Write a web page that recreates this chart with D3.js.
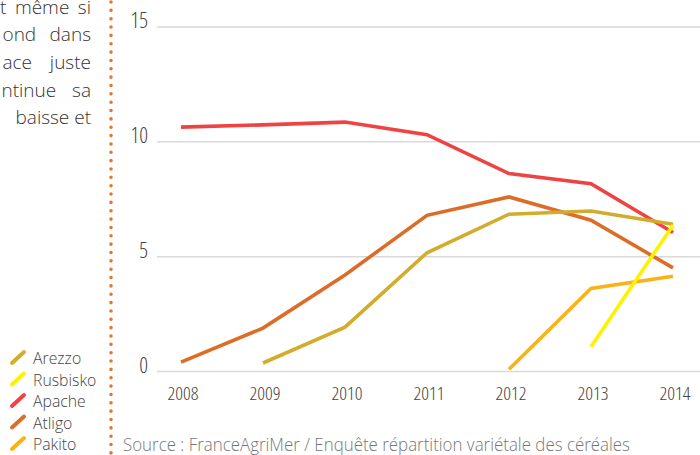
<!DOCTYPE html>
<html><head><meta charset="utf-8">
<script src="https://cdn.jsdelivr.net/npm/d3@7/dist/d3.min.js"></script>
<style>
html,body{margin:0;padding:0;background:#fff;overflow:hidden}
text{font-family:"Open Sans","DejaVu Sans",sans-serif;font-weight:300}
.cond{font-stretch:75%}
</style></head><body>
<svg id="c" width="700" height="455"></svg>
<script>
const years = [2008, 2009, 2010, 2011, 2012, 2013, 2014];
const arezzo   = [null, 0.37, 1.93, 5.17, 6.85, 6.99, 6.41];
const rusbisko = [null, null, null, null, null, 1.08, 6.37];
const apache   = [10.64, 10.74, 10.86, 10.31, 8.62, 8.18, 6.05];
const atligo   = [0.41, 1.89, 4.20, 6.80, 7.60, 6.59, 4.51];
const pakito   = [null, null, null, null, 0.10, 3.62, 4.15];
const yTicks = [0, 5, 10, 15];
const legendNames = ["Arezzo", "Rusbisko", "Apache", "Atligo", "Pakito"];
const paragraph = ["t même si", "ond dans", "ace juste", "ntinue sa", "baisse et"];
const source = "Source : FranceAgriMer / Enquête répartition variétale des céréales";

const colors = {Arezzo:"#d2ad2c", Rusbisko:"#fff200", Apache:"#ef4343", Atligo:"#dc6d28", Pakito:"#fbb217"};
const seriesMap = {Arezzo:arezzo, Rusbisko:rusbisko, Apache:apache, Atligo:atligo, Pakito:pakito};
const drawOrder = ["Apache", "Atligo", "Pakito", "Arezzo", "Rusbisko"];

const svg = d3.select("#c");
const x = d3.scaleLinear().domain([2008, 2014]).range([181, 673]);
const y = d3.scaleLinear().domain([0, 15]).range([371.5, 27]);

// paragraph (visible part, justified to the right edge)
const lineYs = [13.5, 41, 68.5, 96.5, 124];
const lineX0 = [0, 2.5, 2.5, 1.5, 15.5];
const rightEdge = 91;
paragraph.forEach((t, i) => {
  const el = svg.append("text").attr("x", lineX0[i]).attr("y", lineYs[i])
    .attr("font-size", 19).attr("fill", "#333").text(t);
  const L = el.node().getComputedTextLength();
  const n = t.split(" ").length - 1;
  el.attr("word-spacing", Math.max(0, (rightEdge - lineX0[i] - L) / n));
});

// dotted separator
svg.append("line").attr("x1", 111).attr("x2", 111).attr("y1", 2).attr("y2", 455)
  .attr("stroke", "#e0782e").attr("stroke-width", 3.6).attr("stroke-linecap", "round")
  .attr("stroke-dasharray", "0 8.35");

// gridlines
svg.append("g").selectAll("line").data(yTicks).join("line")
  .attr("x1", 157).attr("x2", 700).attr("y1", d => y(d)).attr("y2", d => y(d))
  .attr("stroke", "#d9d9d9").attr("stroke-width", 1.5);

// y tick labels
svg.append("g").selectAll("text").data(yTicks).join("text").attr("class", "cond")
  .attr("x", 148).attr("y", d => y(d) + 1).attr("text-anchor", "end")
  .attr("font-size", 21.5).attr("fill", "#444").text(d => d);

// x labels
svg.append("g").selectAll("text").data(years).join("text").attr("class", "cond")
  .attr("x", d => x(d) + 2).attr("y", 399.5).attr("text-anchor", "middle")
  .attr("font-size", 19).attr("fill", "#444").text(d => d);

// lines
const line = d3.line().defined(d => d.v != null).x(d => x(d.year)).y(d => y(d.v));
drawOrder.forEach(name => {
  const data = years.map((yr, i) => ({year: yr, v: seriesMap[name][i]}));
  svg.append("path").datum(data).attr("d", line).attr("fill", "none")
    .attr("stroke", colors[name]).attr("stroke-width", 3.6).attr("stroke-linejoin", "miter");
});

// legend
const legY = [358, 379.5, 401, 422.5, 444];
legendNames.forEach((n, i) => {
  const cy = legY[i];
  svg.append("line").attr("x1", 12).attr("y1", cy + 5).attr("x2", 24).attr("y2", cy - 6)
    .attr("stroke", colors[n]).attr("stroke-width", 4).attr("stroke-linecap", "round");
  svg.append("text").attr("x", 33).attr("y", cy + 6).attr("font-size", 15.8)
    .attr("fill", "#444").text(n);
});

// source
const src = svg.append("text").attr("x", 123).attr("y", 450.5).attr("font-size", 17.5)
  .attr("fill", "#777").text(source);
const srcW = src.node().getComputedTextLength();
if (srcW > 507) src.attr("textLength", 507).attr("lengthAdjust", "spacingAndGlyphs");
</script>
</body></html>
